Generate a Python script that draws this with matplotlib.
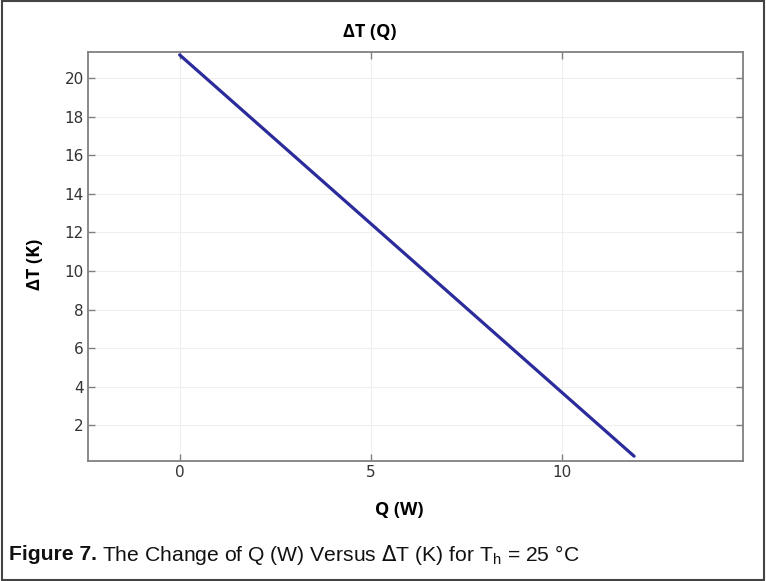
import matplotlib.pyplot as plt
from matplotlib.patches import Rectangle

# data
q_w = [0.0, 11.9]
delta_t = [21.2, 0.4]
x_ticks = [0, 5, 10]
y_ticks = [2, 4, 6, 8, 10, 12, 14, 16, 18, 20]

plt.rcParams['font.family'] = ['DejaVu Sans']

fig = plt.figure(figsize=(7.66, 5.81), dpi=100)
ax = fig.add_axes([0.1149, 0.2065, 0.855, 0.704])

ax.plot(q_w, delta_t, color='#2b2b9c', linewidth=2.3, solid_capstyle='round')

ax.set_xlim(-2.4, 14.75)
ax.set_ylim(0.15, 21.35)
ax.set_xticks(x_ticks)
ax.set_yticks(y_ticks)
ax.grid(True, color='#efefef', linewidth=0.8)
ax.tick_params(direction='in', length=5, width=1, color='#808080', pad=3,
               top=True, right=True, labelcolor='#333333', labelsize=11)
for s in ax.spines.values():
    s.set_color('#808080')
    s.set_linewidth(1.3)

lab_font = dict(family=['Open Sans', 'DejaVu Sans'], fontweight='bold', fontsize=13, color='black')
fig.text(0.483, 0.945, 'ΔT (Q)', ha='center', va='center', **lab_font)
fig.text(0.521, 0.122, 'Q (W)', ha='center', va='center', **lab_font)
fig.text(0.046, 0.545, 'ΔT (K)', ha='center', va='center', rotation=90, **lab_font)

cap = dict(family=['Liberation Sans Narrow', 'Liberation Sans', 'DejaVu Sans'], fontsize=15.2, color='#111111')
t1 = fig.text(0.012, 0.045, 'Figure 7.', fontweight='bold', ha='left', va='center', **cap)
fig.canvas.draw()
bb = t1.get_window_extent()
x2 = fig.transFigure.inverted().transform((bb.x1, 0))[0]
fig.text(x2 + 0.006, 0.045, r'The Change of Q (W) Versus $\Delta$T (K) for T$_\mathregular{h}$ = 25 °C',
         ha='left', va='center', **cap)

fig.patches.append(Rectangle((0.002, 0.002), 0.996, 0.996, transform=fig.transFigure,
                             fill=False, edgecolor='#444444', linewidth=1.5))

fig.savefig('out.png', dpi=100)
